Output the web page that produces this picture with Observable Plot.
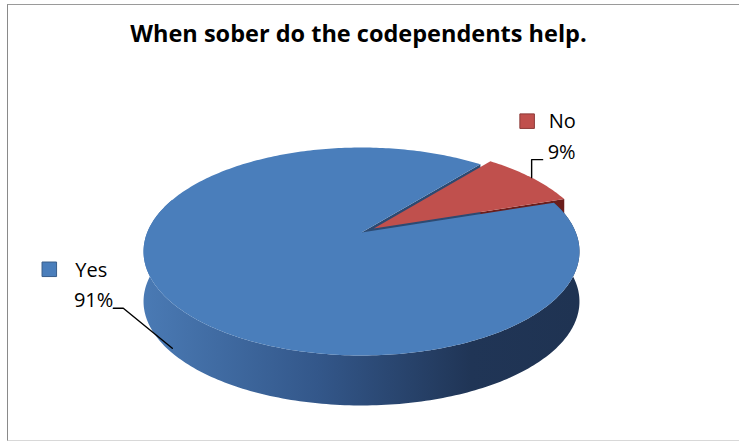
<!DOCTYPE html>
<html><head><meta charset="utf-8">
<script src="https://cdn.jsdelivr.net/npm/d3@7"></script>
<script src="https://cdn.jsdelivr.net/npm/@observablehq/plot@0.6"></script>
<style>
body{margin:0;background:#fff;}
#wrap{position:relative;width:739px;height:441px;overflow:hidden;}
#chart{position:absolute;left:0;top:0;}
#frame{position:absolute;left:7px;top:4px;width:760px;height:435px;border-left:1.5px solid #8a8a8a;border-top:1.5px solid #9a9a9a;border-bottom:1px solid #d8d8d8;background:transparent;pointer-events:none;}
#title{position:absolute;left:0;width:717px;top:22px;text-align:center;font-family:"Open Sans",sans-serif;font-weight:bold;font-size:23.5px;line-height:23.5px;color:#000;white-space:nowrap;}
</style></head><body>
<div id="wrap"><div id="chart"></div><div id="frame"></div><div id="title"></div></div>
<script>
const title = "When sober do the codependents help.";
const categories = ["No", "Yes"];
const values = [9, 91];
const percentLabels = ["9%", "91%"];

// ---- geometry / style (not data) ----
const W = 739, H = 441;
const A = 214.3, B = 100.5;      // px per unit (x, y)
const CX = 361, CY = 232;        // pie centre in px
const P = 0.1827;                // perspective
const DEPTH = 50;                // px
const ROT = 39.3;                // first slice start angle (deg, clockwise from top)
const EXPLODE = [0.07, 0];
const topColors = ["#c0504d", "#4a7ebb"];
const faceColors = ["#6b1e1c", "#2c4a72"];
const keyStroke = ["#8c3a38", "#385d8a"];

document.getElementById("title").textContent = title;

const total = d3.sum(values);
let acc = ROT;
const slices = categories.map((c, i) => {
  const a0 = acc, a1 = acc + values[i] / total * 360;
  acc = a1;
  return {c, a0, a1, mid: (a0 + a1) / 2, e: EXPLODE[i], label: percentLabels[i], i};
});

function pt(theta, r, s, depthPx = 0) {
  const t = theta * Math.PI / 180, m = s.mid * Math.PI / 180;
  const u = s.e * Math.sin(m) + r * Math.sin(t);
  const v = -s.e * Math.cos(m) - r * Math.cos(t);
  const k = 1 / (1 - P * v);
  return {x: u * k, y: v * k + depthPx / B};
}
function off(p, dx, dy) { return {x: p.x + dx / A, y: p.y + dy / B}; }
function arc(s, a0, a1, depthPx = 0) {
  const th = d3.range(a0, a1, 1).concat([a1]);
  return th.map(t => pt(t, 1, s, depthPx));
}

const [no, yes] = slices;

const redFace = [pt(no.a1, 0, no), pt(no.a1, 1, no), pt(no.a1, 1, no, DEPTH), pt(no.a1, 0, no, DEPTH)];
const blueFace = [pt(yes.a1, 0, yes), pt(yes.a1, 1, yes), pt(yes.a1, 1, yes, DEPTH), pt(yes.a1, 0, yes, DEPTH)];
const band = arc(yes, yes.a0, 290).concat(arc(yes, yes.a0, 290, DEPTH).reverse());
const blueTop = [pt(0, 0, yes)].concat(arc(yes, yes.a0, yes.a1));
const redTop = [pt(0, 0, no)].concat(arc(no, no.a0, no.a1));

// labels
const Ln = pt(no.mid, 1, no);
const Ly = pt(yes.mid, 1, yes);
const leaderNo = [Ln, off(Ln, 0, -18), off(Ln, 11, -18)];
const leaderYes = [off(Ly, 7.8, 52.3), off(Ly, -41.2, 12.3), off(Ly, -51.2, 12.3)];

const poly = (d, fill) => Plot.line(d, {x: "x", y: "y", fill, stroke: "none", curve: "linear-closed"});

const font = {fontFamily: "Open Sans", fontSize: 20, fill: "#000", lineAnchor: "middle"};

const plot = Plot.plot({
  width: W, height: H, margin: 0,
  style: {background: "transparent", overflow: "visible"},
  x: {domain: [-CX / A, (W - CX) / A], range: [0, W], axis: null},
  y: {domain: [-CY / B, (H - CY) / B], range: [0, H], axis: null},
  marks: [
    poly(redFace, faceColors[0]),
    poly(blueFace, faceColors[1]),
    poly(band, "url(#sideGrad)"),
    poly(blueTop, topColors[1]),
    poly(redTop, topColors[0]),
    Plot.line(leaderNo, {x: "x", y: "y", stroke: "#000", strokeWidth: 1.4}),
    Plot.line(leaderYes, {x: "x", y: "y", stroke: "#000", strokeWidth: 1.4}),
    // No label
    Plot.dot([Ln], {x: "x", y: "y", dx: -4.5, dy: -56.5, symbol: "square", r: 8.2, fill: topColors[0], stroke: keyStroke[0], strokeWidth: 1}),
    Plot.text([Ln], {x: "x", y: "y", text: () => categories[0], dx: 17, dy: -56, textAnchor: "start", ...font}),
    Plot.text([Ln], {x: "x", y: "y", text: () => percentLabels[0], dx: 16, dy: -25.5, textAnchor: "start", ...font}),
    // Yes label
    Plot.dot([Ly], {x: "x", y: "y", dx: -115.2, dy: -26.7, symbol: "square", r: 8.2, fill: topColors[1], stroke: keyStroke[1], strokeWidth: 1}),
    Plot.text([Ly], {x: "x", y: "y", text: () => categories[1], dx: -89.2, dy: -25.7, textAnchor: "start", ...font}),
    Plot.text([Ly], {x: "x", y: "y", text: () => percentLabels[1], dx: -51.2, dy: 4.3, textAnchor: "end", ...font})
  ]
});

const defs = d3.select(plot).insert("defs", ":first-child");
const g = defs.append("linearGradient").attr("id", "sideGrad").attr("x1", 0).attr("x2", 1).attr("y1", 0).attr("y2", 0);
[["0%", "#4a7ab4"], ["40%", "#33578a"], ["75%", "#203556"], ["100%", "#1f3352"]].forEach(([o, c]) =>
  g.append("stop").attr("offset", o).attr("stop-color", c));

document.getElementById("chart").appendChild(plot);
</script>
</body></html>
